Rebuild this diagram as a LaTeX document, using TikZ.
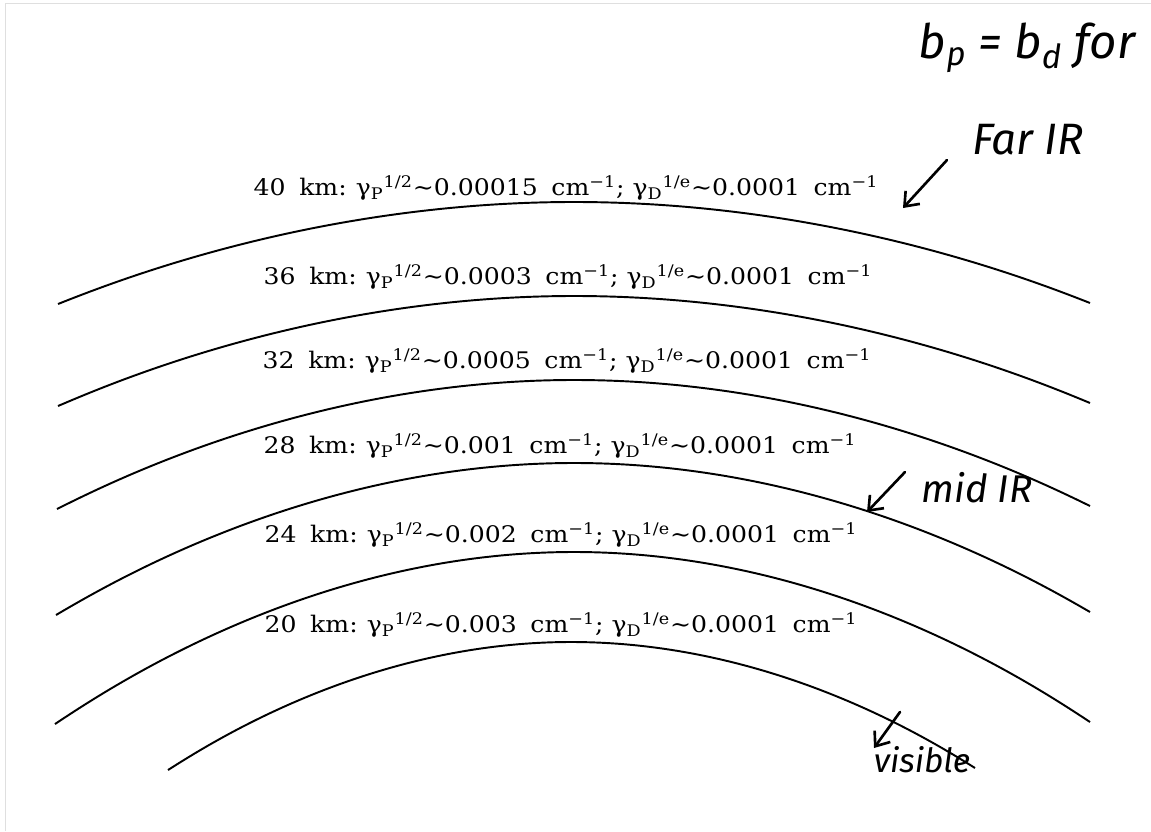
\documentclass[tikz,border=0pt]{standalone}
\usepackage{fontspec}
\setmainfont{DejaVu Serif}
\newfontfamily\layerfont{DejaVu Serif}[FakeStretch=1.1]
\newfontfamily\handfont{Fira Sans}
\usetikzlibrary{arrows.meta,positioning}
\newcommand{\layerlabel}[3]{#1\hspace{0.6em}km:\hspace{0.4em}γ\textsubscript{P}\textsuperscript{1/2}∼#2\hspace{0.6em}cm\textsuperscript{−1}; γ\textsubscript{D}\textsuperscript{1/e}∼#3\hspace{0.6em}cm\textsuperscript{−1}}

\begin{document}
\begin{tikzpicture}[x=0.02cm,y=-0.02cm,
        shell/.style={line width=1.1pt},
        layer/.style={anchor=base,font=\layerfont\fontsize{13}{15}\selectfont},
        note/.style={font=\handfont\itshape\fontsize{25}{27}\selectfont,inner sep=0pt},
        pointer/.style={line width=1.5pt,line cap=round,-{Straight Barb[length=7pt,width=11pt]}}]
        \useasboundingbox (0,0) rectangle (1151,831);
        \draw[gray!25] (5,831) -- (5,3) -- (1151,3);
        \draw[shell] (58,304) parabola bend (574,202) (1090,303);
        \draw[shell] (58,406) parabola bend (574,296) (1090,403);
        \draw[shell] (57,509) parabola bend (574,380) (1090,506);
        \draw[shell] (56,615) parabola bend (574,463) (1090,612);
        \draw[shell] (55,724) parabola bend (574,552) (1090,722);
        \draw[shell] (168,770) parabola bend (571,642) (975,768);
        \node[layer] (km40) at (566,195) {\layerlabel{40}{0.00015}{0.0001}};
        \node[layer] (km36) at (568,284) {\layerlabel{36}{0.0003}{0.0001}};
        \node[layer] (km32) at (567,368) {\layerlabel{32}{0.0005}{0.0001}};
        \node[layer] (km28) at (560,453) {\layerlabel{28}{0.001}{0.0001}};
        \node[layer] (km24) at (561,542) {\layerlabel{24}{0.002}{0.0001}};
        \node[layer] (km20) at (561,632) {\layerlabel{20}{0.003}{0.0001}};
        \node[note,font=\handfont\itshape\fontsize{27}{29}\selectfont] (equal) at (1027,48) {b\textsubscript{p} = b\textsubscript{d} for};
        \node[note] (farir) at (1028,140) {Far IR};
        \node[note,font=\handfont\itshape\fontsize{22}{24}\selectfont] (midir) at (977,488) {mid IR};
        \node[note,font=\handfont\itshape\fontsize{19}{21}\selectfont] (visible) at (922,760) {visible};
        \coordinate (farfrom) at (947,160);
        \coordinate (fartip) at (903,208);
        \coordinate (midfrom) at (905,472);
        \coordinate (midtip) at (867,512);
        \coordinate (visfrom) at (900,712);
        \coordinate (vistip) at (874,748);
        \draw[pointer] (farfrom) -- (fartip);
        \draw[pointer] (midfrom) -- (midtip);
        \draw[pointer] (visfrom) -- (vistip);
      \end{tikzpicture}
\end{document}
